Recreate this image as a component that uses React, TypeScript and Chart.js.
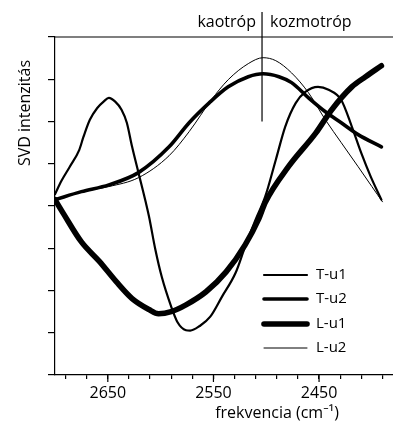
import React, { useEffect, useRef } from 'react';
import { Chart, registerables } from 'chart.js';
Chart.register(...registerables);

// T-u1 (medium-thin, noisy line)
const tu1X = [2700, 2694, 2686, 2677, 2673, 2667, 2660, 2654, 2649, 2643, 2637, 2632, 2627, 2621, 2614, 2611, 2605, 2599, 2590, 2584, 2576, 2572, 2563, 2553, 2542, 2529, 2520, 2510, 2501, 2491, 2482, 2472, 2463, 2451, 2441, 2429, 2419, 2410, 2401, 2391];
const tu1Y = [0.28, 0.59, 0.93, 1.33, 1.64, 2.04, 2.32, 2.47, 2.56, 2.47, 2.28, 1.97, 1.40, 0.79, 0.08, -0.25, -1.03, -1.67, -2.38, -2.75, -2.94, -2.95, -2.84, -2.62, -2.15, -1.58, -0.96, -0.32, 0.22, 1.09, 1.88, 2.44, 2.70, 2.82, 2.75, 2.51, 1.88, 1.25, 0.69, 0.15];

// T-u2
const tu2X = [2700, 2675, 2649, 2621, 2592, 2573, 2554, 2536, 2517, 2503, 2488, 2476, 2460, 2444, 2429, 2413, 2391];
const tu2Y = [0.15, 0.34, 0.50, 0.79, 1.40, 1.97, 2.44, 2.82, 3.06, 3.13, 3.06, 2.92, 2.56, 2.23, 1.97, 1.69, 1.40];

// L-u1 (thickest)
const lu1X = [2700, 2692, 2675, 2658, 2642, 2627, 2611, 2602, 2590, 2576, 2557, 2538, 2520, 2507, 2501, 2479, 2453, 2438, 2419, 2406, 2391];
const lu1Y = [0.15, -0.18, -0.85, -1.31, -1.79, -2.19, -2.45, -2.55, -2.50, -2.34, -2.03, -1.56, -0.92, -0.30, 0.08, 0.93, 1.73, 2.28, 2.82, 3.06, 3.32];

// L-u2 (thinnest)
const lu2X = [2700, 2675, 2649, 2621, 2592, 2573, 2552, 2536, 2517, 2503, 2491, 2476, 2460, 2444, 2429, 2413, 2400, 2390];
const lu2Y = [0.15, 0.34, 0.46, 0.67, 1.19, 1.76, 2.51, 2.99, 3.37, 3.51, 3.44, 3.15, 2.68, 2.04, 1.50, 0.93, 0.46, 0.10];

const seriesLabels = ['T-u1', 'T-u2', 'L-u1', 'L-u2'];

const xTickValues = [2690, 2670, 2650, 2630, 2610, 2590, 2570, 2550, 2530, 2510, 2490, 2470, 2450, 2430, 2410, 2390];
const xLabelValues = [2650, 2550, 2450];
const yTickValues = [-4, -3, -2, -1, 0, 1, 2, 3, 4];
const dividerX = 2504;
const dividerBottomY = 2.0;
const leftRegion = 'kaotróp';
const rightRegion = 'kozmotróp';
const xTitle = 'frekvencia (cm⁻¹)';
const yTitle = 'SVD intenzitás';

const FONT = '"Open Sans", "Noto Sans", sans-serif';

const toPoints = (xs: number[], ys: number[]) => xs.map((x, i) => ({ x, y: ys[i] }));

const overlay = {
  id: 'overlay',
  afterDraw(chart: any) {
    const { ctx, chartArea: a, scales } = chart;
    const x = scales.x;
    const y = scales.y;
    ctx.save();
    ctx.strokeStyle = '#000';
    ctx.fillStyle = '#000';
    ctx.lineWidth = 1.2;
    ctx.lineCap = 'butt';
    // top frame
    ctx.beginPath();
    ctx.moveTo(a.left, a.top);
    ctx.lineTo(a.right, a.top);
    ctx.stroke();
    // longer major ticks
    ctx.beginPath();
    for (const v of xLabelValues) {
      const px = x.getPixelForValue(v);
      ctx.moveTo(px, a.bottom);
      ctx.lineTo(px, a.bottom + 7);
    }
    ctx.stroke();
    // divider
    const dx = x.getPixelForValue(dividerX);
    ctx.beginPath();
    ctx.moveTo(dx, a.top - 25);
    ctx.lineTo(dx, y.getPixelForValue(dividerBottomY));
    ctx.stroke();
    ctx.font = `16px ${FONT}`;
    ctx.textBaseline = 'middle';
    ctx.textAlign = 'right';
    ctx.fillText(leftRegion, dx - 6, a.top - 15);
    ctx.textAlign = 'left';
    ctx.fillText(rightRegion, dx + 8, a.top - 15);
    // x title
    ctx.textAlign = 'center';
    ctx.fillText(xTitle, 277, 413);
    // y title
    ctx.save();
    ctx.translate(25, 113);
    ctx.rotate(-Math.PI / 2);
    ctx.fillText(yTitle, 0, 0);
    ctx.restore();
    // legend
    const rows = [275, 299, 324, 348];
    ctx.font = `15px ${FONT}`;
    ctx.textAlign = 'left';
    chart.data.datasets.forEach((ds: any, i: number) => {
      ctx.beginPath();
      ctx.lineWidth = ds.borderWidth;
      ctx.lineCap = 'round';
      ctx.moveTo(264, rows[i]);
      ctx.lineTo(307, rows[i]);
      ctx.stroke();
      ctx.fillText(ds.label, 316, rows[i]);
    });
    ctx.restore();
  },
};

export default function App() {
  const ref = useRef<HTMLCanvasElement | null>(null);
  useEffect(() => {
    document.body.style.margin = '0';
    const canvas = ref.current!;
    const common = { borderColor: '#000', pointRadius: 0, cubicInterpolationMode: 'monotone', fill: false, borderCapStyle: 'round', borderJoinStyle: 'round' };
    const chart = new Chart(canvas, {
      type: 'line',
      data: {
        datasets: [
          { ...common, label: seriesLabels[0], data: toPoints(tu1X, tu1Y), borderWidth: 2.2 },
          { ...common, label: seriesLabels[1], data: toPoints(tu2X, tu2Y), borderWidth: 3.6 },
          { ...common, label: seriesLabels[2], data: toPoints(lu1X, lu1Y), borderWidth: 5.6 },
          { ...common, label: seriesLabels[3], data: toPoints(lu2X, lu2Y), borderWidth: 1 },
        ] as any,
      },
      options: {
        animation: false,
        responsive: false,
        maintainAspectRatio: false,
        layout: { padding: { top: 37, right: 0, left: 0, bottom: 0 } },
        plugins: { legend: { display: false }, tooltip: { enabled: false } },
        scales: {
          x: {
            type: 'linear',
            reverse: true,
            min: 2380,
            max: 2700,
            afterBuildTicks: (scale: any) => {
              scale.ticks = xTickValues.map((v) => ({ value: v }));
            },
            afterFit: (scale: any) => {
              scale.height = 49;
            },
            grid: { drawOnChartArea: false, drawTicks: true, tickLength: 4, color: '#000', lineWidth: 1.2 },
            border: { display: true, color: '#000', width: 1.2 },
            ticks: {
              autoSkip: false,
              maxRotation: 0,
              padding: 5,
              color: '#000',
              font: { family: FONT, size: 16 },
              callback: (v: any) => (xLabelValues.includes(Number(v)) ? String(v) : ''),
            },
          },
          y: {
            type: 'linear',
            min: -4,
            max: 4,
            afterBuildTicks: (scale: any) => {
              scale.ticks = yTickValues.map((v) => ({ value: v }));
            },
            afterFit: (scale: any) => {
              scale.width = 55;
            },
            grid: { drawOnChartArea: false, drawTicks: true, tickLength: 7, color: '#000', lineWidth: 1.2 },
            border: { display: true, color: '#000', width: 1.2 },
            ticks: { display: true, callback: () => '' },
          },
        },
      },
      plugins: [overlay],
    } as any);
    return () => chart.destroy();
  }, []);
  return <canvas ref={ref} width={393} height={424} style={{ display: 'block' }} />;
}
